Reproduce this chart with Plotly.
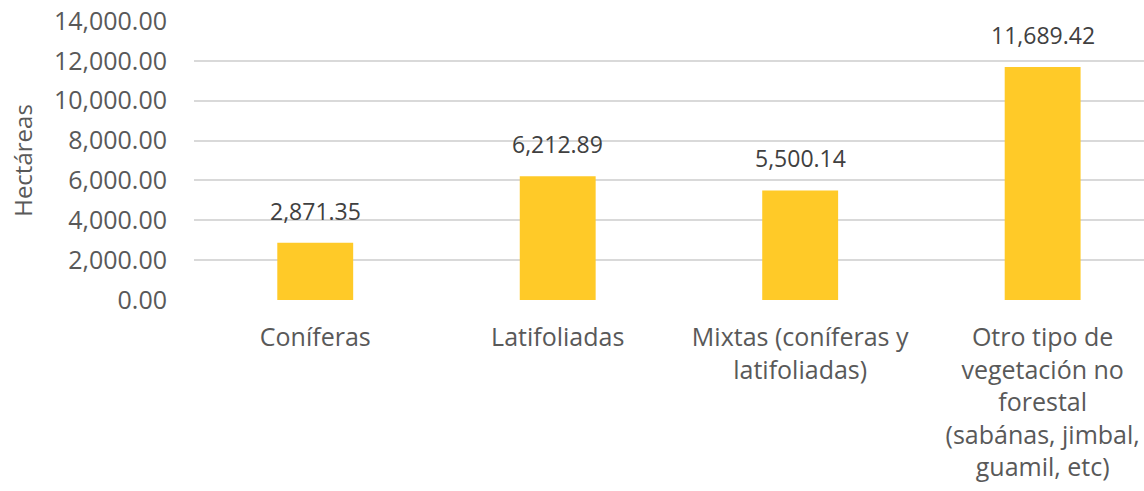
import plotly.graph_objects as go

categories = [
    "Coníferas",
    "Latifoliadas",
    "Mixtas (coníferas y<br>latifoliadas)",
    "Otro tipo de<br>vegetación no<br>forestal<br>(sabánas, jimbal,<br>guamil, etc)",
]
values = [2871.35, 6212.89, 5500.14, 11689.42]
y_ticks = [0, 2000, 4000, 6000, 8000, 10000, 12000, 14000]
y_title = "Hectáreas"

FONT = "Open Sans"

fig = go.Figure()
fig.add_trace(go.Bar(
    x=categories,
    y=values,
    marker=dict(color="#FFCA28", line=dict(width=0)),
    width=0.313,
    hoverinfo="skip",
))

for c, v in zip(categories, values):
    fig.add_annotation(
        x=c, y=v, text=f"{v:,.2f}", showarrow=False,
        yanchor="bottom", yshift=14,
        font=dict(family=FONT, size=23, color="#404040"),
    )

fig.update_layout(
    width=1144, height=491,
    margin=dict(l=194, r=0, t=21, b=191),
    paper_bgcolor="white", plot_bgcolor="white",
    showlegend=False,
    bargap=0.687,
    font=dict(family=FONT, size=23, color="#595959"),
)
fig.update_xaxes(
    type="category",
    range=[-0.5, 3.418],
    showgrid=False, zeroline=False, showline=False,
    tickfont=dict(family=FONT, size=25, color="#595959"),
    ticks="", ticklabelstandoff=20,
    automargin=False,
)
fig.update_yaxes(
    range=[0, 14000],
    tickvals=y_ticks,
    tickformat=",.2f",
    showgrid=True, gridcolor="#D9D9D9", gridwidth=2,
    zeroline=False, showline=False,
    tickfont=dict(family=FONT, size=25, color="#595959"),
    ticks="", ticklabelstandoff=26,
    automargin=False,
    title=dict(text=y_title, font=dict(family=FONT, size=24, color="#595959"), standoff=14),
)

fig.write_html(
    "out.html",
    config={"displayModeBar": False},
    post_script="document.body.style.margin='0';document.body.style.overflow='hidden';",
)
